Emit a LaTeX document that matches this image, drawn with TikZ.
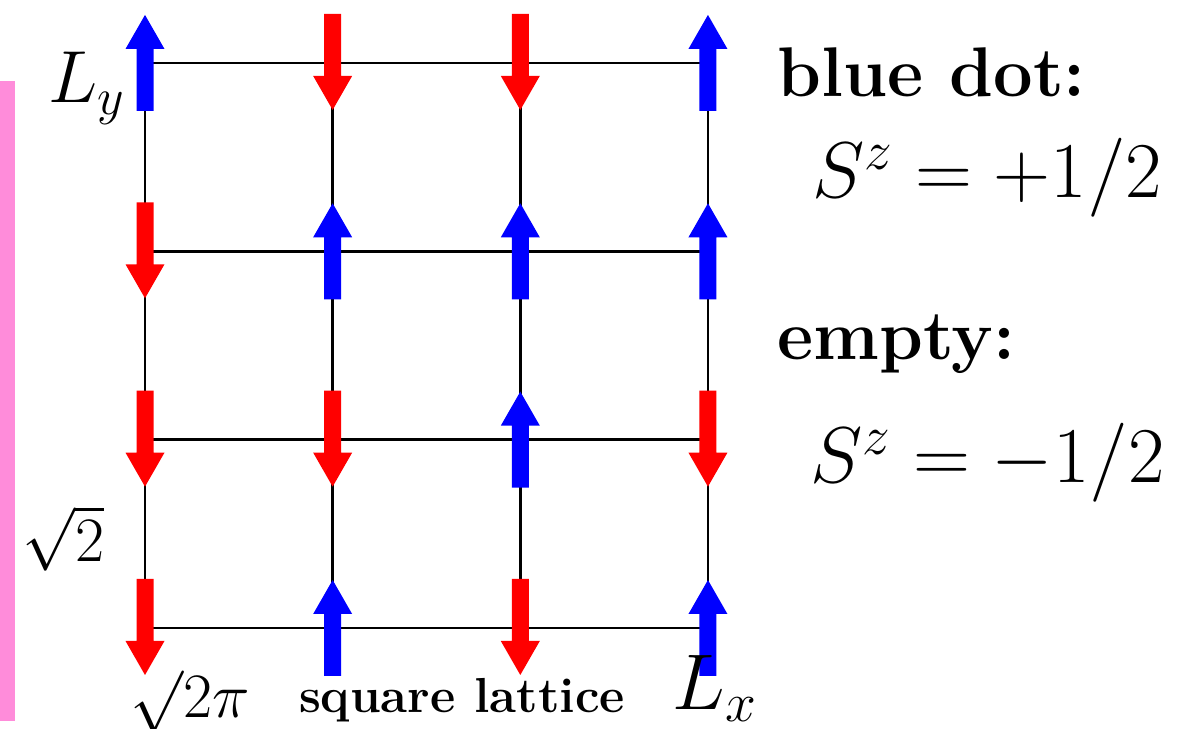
\documentclass[tikz,border=0pt]{standalone}
\usepackage{fix-cm}
\definecolor{barpink}{RGB}{255,140,218}
\tikzset{
  spin/.pic={\fill (-0.17,-0.96) -- (-0.17,0.28) -- (-0.39,0.28) -- (0,0.96)
    -- (0.39,0.28) -- (0.17,0.28) -- (0.17,-0.96) -- cycle;}}
\begin{document}
\begin{tikzpicture}[
  bond/.style={line width=1.4pt},
  big/.style={font=\fontsize{40}{46}\selectfont, inner sep=0pt},
  bigmath/.style={font=\fontsize{45}{52}\selectfont, inner sep=0pt},
  root/.style={font=\fontsize{36}{42}\selectfont, inner sep=0pt},
  small/.style={font=\fontsize{28}{32}\selectfont\bfseries, inner sep=0pt}]
\useasboundingbox (0,0) rectangle (23.64,14.58);
\fill[barpink] (0,0.16) rectangle (0.30,12.96);
\foreach \i in {0,...,3}
  \foreach \j in {0,...,3}
    \coordinate (s\i\j) at (2.9+3.753*\i, 2.02+3.767*\j);
\foreach \j in {0,...,3}
  \draw[bond] (s0\j) -- (s3\j);
\foreach \i in {0,...,3}
  \draw[bond] (s\i0) -- (s\i3);
\foreach \s in {s03,s33,s12,s22,s32,s21,s10,s30}
  \pic[blue] at (\s) {spin};
\foreach \s in {s13,s23,s02,s01,s11,s31,s00,s20}
  \pic[red, rotate=180] at ([yshift=0.02cm]\s) {spin};
\node[big, font=\fontsize{42}{48}\selectfont, anchor=base east] (ly) at (2.50,12.52) {$L_y$};
\node[root, anchor=base west] (rt) at (0.44,3.34) {$\sqrt{2}$};
\node[root, anchor=base west] (rtpi) at (2.6,0.22) {$\surd 2\pi$};
\node[small, anchor=base] (sq) at (9.24,0.32) {square lattice};
\node[bigmath, anchor=base west] (lx) at (13.44,0.38) {$L_x$};
\node[big, anchor=base west] (bd) at (15.54,12.64) {\bfseries blue dot:};
\node[bigmath, anchor=base west] (sup) at (16.24,10.62) {$S^z=+1/2$};
\node[big, anchor=base west] (em) at (15.54,7.38) {\bfseries empty:};
\node[bigmath, anchor=base west] (sdn) at (16.2,4.92) {$S^z=-1/2$};
\end{tikzpicture}
\end{document}
